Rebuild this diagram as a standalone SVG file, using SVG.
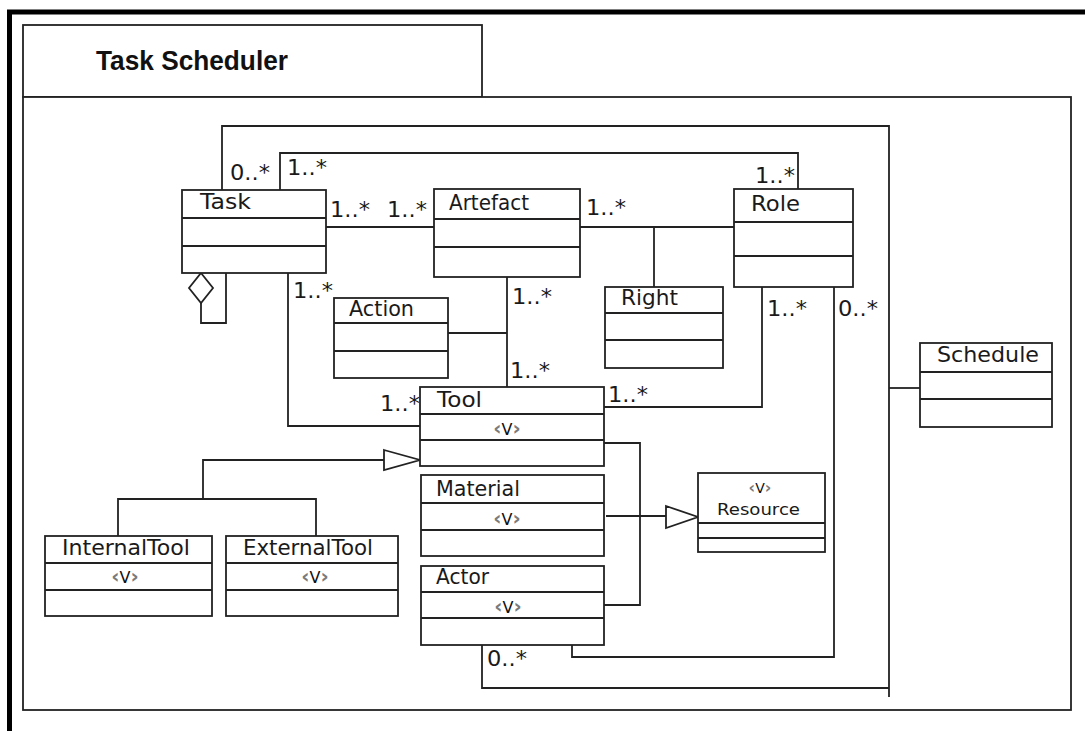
<svg xmlns="http://www.w3.org/2000/svg" width="1085" height="731" viewBox="0 0 1085 731">
<style>
.bx{fill:#fff;stroke:#222;stroke-width:1.8}
.ln{fill:none;stroke:#222;stroke-width:1.8}
.tri{fill:#fff;stroke:#222;stroke-width:1.8;stroke-linejoin:miter}
.nm{font-family:"DejaVu Sans","Liberation Sans",sans-serif;font-size:21px;fill:#1a1a1a}
.mu{font-family:"DejaVu Sans","Liberation Sans",sans-serif;font-size:21px;fill:#1a1a1a}
.st{font-family:"DejaVu Sans","Liberation Sans",sans-serif;font-size:16px;fill:#111;text-anchor:middle}
.ch{fill:#7a7a7a;font-weight:bold;font-size:20px}
.ttl{font-family:"Liberation Sans",Arial,sans-serif;font-size:27px;font-weight:bold;fill:#111}
</style>
<rect width="1085" height="731" fill="#fff"/>
<path d="M9.5,731 V12 H1085" fill="none" stroke="#000" stroke-width="5"/>
<g id="package">
<rect x="23" y="25" width="459" height="72" class="bx"/>
<rect x="23" y="97" width="1048" height="613" class="bx"/>
<text x="96" y="70" class="ttl" textLength="192" lengthAdjust="spacingAndGlyphs">Task Scheduler</text>
</g>
<g id="connectors">
<path class="ln" d="M222,190 V126 H889 V697"/>
<path class="ln" d="M889,388 H920"/>
<path class="ln" d="M482,645 V688 H889"/>
<path class="ln" d="M280,190 V153 H798 V189"/>
<path class="ln" d="M326,227 H434"/>
<path class="ln" d="M580,227 H734"/>
<path class="ln" d="M654,227 V287"/>
<path class="ln" d="M201,303 V323 H226 V273"/>
<polygon class="tri" points="201,273 213,288 201,303 189,288"/>
<path class="ln" d="M288,273 V426 H420"/>
<path class="ln" d="M507,277 V387"/>
<path class="ln" d="M448,333 H507"/>
<path class="ln" d="M604,407 H762 V287"/>
<path class="ln" d="M604,443 H640 V605 H604"/>
<path class="ln" d="M606,516 H666"/>
<polygon class="tri" points="666,506 698,517 666,528"/>
<path class="ln" d="M118,536 V499 H316 V536"/>
<path class="ln" d="M203,499 V460 H384"/>
<polygon class="tri" points="384,450 420,460 384,470"/>
<path class="ln" d="M572,645 V657 H834 V287"/>
<text class="mu" x="230" y="180" textLength="40" lengthAdjust="spacingAndGlyphs">0..*</text>
<text class="mu" x="287" y="175" textLength="40" lengthAdjust="spacingAndGlyphs">1..*</text>
<text class="mu" x="330" y="217" textLength="40" lengthAdjust="spacingAndGlyphs">1..*</text>
<text class="mu" x="387" y="217" textLength="40" lengthAdjust="spacingAndGlyphs">1..*</text>
<text class="mu" x="586" y="215" textLength="40" lengthAdjust="spacingAndGlyphs">1..*</text>
<text class="mu" x="755" y="183" textLength="40" lengthAdjust="spacingAndGlyphs">1..*</text>
<text class="mu" x="293" y="298" textLength="40" lengthAdjust="spacingAndGlyphs">1..*</text>
<text class="mu" x="512" y="304" textLength="40" lengthAdjust="spacingAndGlyphs">1..*</text>
<text class="mu" x="510" y="378" textLength="40" lengthAdjust="spacingAndGlyphs">1..*</text>
<text class="mu" x="380" y="411" textLength="40" lengthAdjust="spacingAndGlyphs">1..*</text>
<text class="mu" x="608" y="402" textLength="40" lengthAdjust="spacingAndGlyphs">1..*</text>
<text class="mu" x="767" y="316" textLength="40" lengthAdjust="spacingAndGlyphs">1..*</text>
<text class="mu" x="838" y="316" textLength="40" lengthAdjust="spacingAndGlyphs">0..*</text>
<text class="mu" x="487" y="666" textLength="40" lengthAdjust="spacingAndGlyphs">0..*</text>
</g>
<g id="Task">
<rect class="bx" x="182" y="190" width="144" height="83"/>
<path class="ln" d="M182,218 H326 M182,246 H326"/>
<text class="nm" x="200" y="209" textLength="51" lengthAdjust="spacingAndGlyphs">Task</text>
</g>
<g id="Artefact">
<rect class="bx" x="434" y="189" width="146" height="88"/>
<path class="ln" d="M434,219 H580 M434,247 H580"/>
<text class="nm" x="449" y="210" textLength="80" lengthAdjust="spacingAndGlyphs">Artefact</text>
</g>
<g id="Role">
<rect class="bx" x="734" y="189" width="119" height="98"/>
<path class="ln" d="M734,222 H853 M734,256 H853"/>
<text class="nm" x="751" y="211" textLength="49" lengthAdjust="spacingAndGlyphs">Role</text>
</g>
<g id="Right">
<rect class="bx" x="605" y="287" width="118" height="81"/>
<path class="ln" d="M605,313 H723 M605,340 H723"/>
<text class="nm" x="621" y="305" textLength="57" lengthAdjust="spacingAndGlyphs">Right</text>
</g>
<g id="Action">
<rect class="bx" x="334" y="298" width="114" height="80"/>
<path class="ln" d="M334,323 H448 M334,351 H448"/>
<text class="nm" x="349" y="316" textLength="65" lengthAdjust="spacingAndGlyphs">Action</text>
</g>
<g id="Tool">
<rect class="bx" x="420" y="387" width="184" height="79"/>
<path class="ln" d="M420,414 H604 M420,440 H604"/>
<text class="nm" x="437" y="407" textLength="45" lengthAdjust="spacingAndGlyphs">Tool</text>
<text class="st" x="507" y="435"><tspan class="ch">‹</tspan>V<tspan class="ch">›</tspan></text>
</g>
<g id="Material">
<rect class="bx" x="421" y="475" width="183" height="81"/>
<path class="ln" d="M421,503 H604 M421,530 H604"/>
<text class="nm" x="436" y="496" textLength="84" lengthAdjust="spacingAndGlyphs">Material</text>
<text class="st" x="507" y="525"><tspan class="ch">‹</tspan>V<tspan class="ch">›</tspan></text>
</g>
<g id="Actor">
<rect class="bx" x="421" y="566" width="183" height="79"/>
<path class="ln" d="M421,592 H604 M421,618 H604"/>
<text class="nm" x="436" y="584" textLength="53" lengthAdjust="spacingAndGlyphs">Actor</text>
<text class="st" x="508" y="613"><tspan class="ch">‹</tspan>V<tspan class="ch">›</tspan></text>
</g>
<g id="InternalTool">
<rect class="bx" x="45" y="536" width="167" height="80"/>
<path class="ln" d="M45,563 H212 M45,590 H212"/>
<text class="nm" x="62" y="555" textLength="128" lengthAdjust="spacingAndGlyphs">InternalTool</text>
<text class="st" x="125" y="583"><tspan class="ch">‹</tspan>V<tspan class="ch">›</tspan></text>
</g>
<g id="ExternalTool">
<rect class="bx" x="226" y="536" width="172" height="80"/>
<path class="ln" d="M226,563 H398 M226,590 H398"/>
<text class="nm" x="243" y="555" textLength="130" lengthAdjust="spacingAndGlyphs">ExternalTool</text>
<text class="st" x="315" y="583"><tspan class="ch">‹</tspan>V<tspan class="ch">›</tspan></text>
</g>
<g id="Resource">
<rect class="bx" x="698" y="473" width="127" height="79"/>
<path class="ln" d="M698,523 H825 M698,538 H825"/>
<text class="st" x="760" y="493" style="font-size:14px"><tspan class="ch" style="font-size:16px">‹</tspan>V<tspan class="ch" style="font-size:16px">›</tspan></text>
<text class="nm" x="717" y="515" style="font-size:16px" textLength="83" lengthAdjust="spacingAndGlyphs">Resource</text>
</g>
<g id="Schedule">
<rect class="bx" x="920" y="343" width="132" height="84"/>
<path class="ln" d="M920,372 H1052 M920,399 H1052"/>
<text class="nm" x="937" y="362" textLength="102" lengthAdjust="spacingAndGlyphs">Schedule</text>
</g>
</svg>
